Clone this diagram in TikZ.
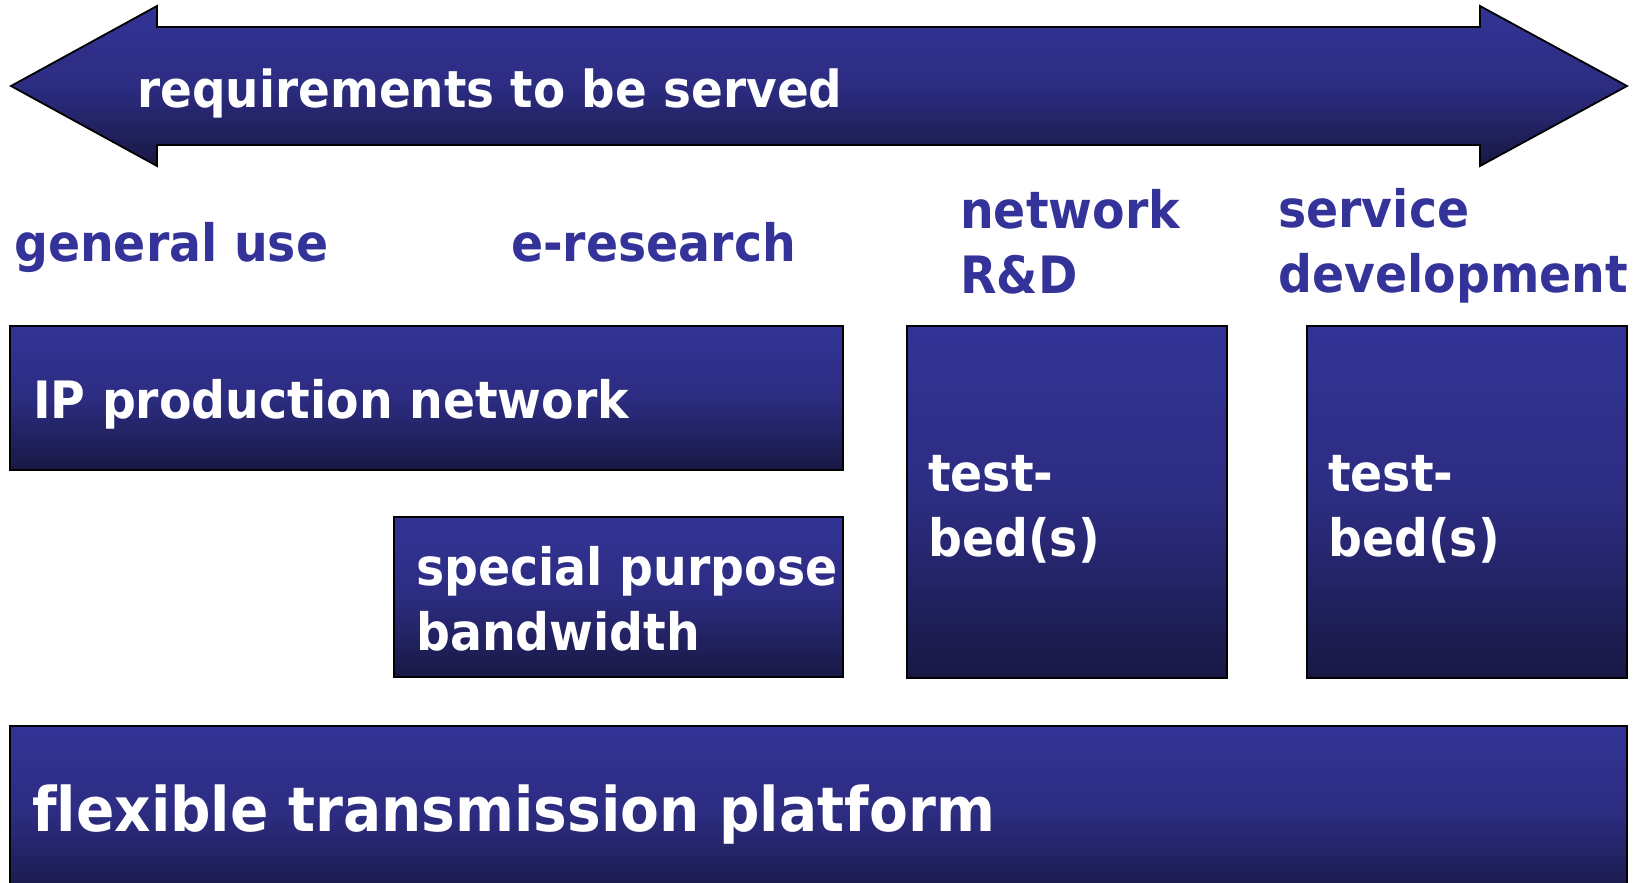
\documentclass[tikz,border=0pt]{standalone}
\usepackage{fontspec}
\setmainfont{DejaVu Sans}[FakeStretch=0.92, Ligatures=NoCommon]
\definecolor{navytop}{RGB}{51,51,150}
\definecolor{navybot}{RGB}{24,24,68}
\definecolor{labelblue}{RGB}{51,51,153}
\tikzset{
  panel/.style={draw=black, line width=2.5pt, top color=navytop, bottom color=navybot, middle color=navytop!75!navybot},
  paneltext/.style={text=white, font=\fontsize{51.5}{65}\selectfont\bfseries, inner sep=0pt, align=left},
  labeltext/.style={text=labelblue, font=\fontsize{51.5}{65}\selectfont\bfseries, inner sep=0pt, align=left},
}
\begin{document}
\begin{tikzpicture}[x=1pt,y=-1pt]
\useasboundingbox (0,0) rectangle (1635,883);
\clip (0,0) rectangle (1635,883);
% double arrow
\path[panel, line width=1.8pt, line join=miter]
  (11,86) coordinate (arrL) -- (157,6) -- (157,27) -- (1480,27) -- (1480,6)
  -- (1627,86) coordinate (arrR) -- (1480,166) -- (1480,145) -- (157,145) -- (157,166) -- cycle;
\node[paneltext, font=\fontsize{51}{65}\selectfont\bfseries, anchor=base west] (req) at (137,107) {requirements to be served};
% column labels
\node[labeltext, anchor=base west] (gen) at (14,261) {general use};
\node[labeltext, anchor=base west] (eres) at (511,261) {e-research};
\node[labeltext, anchor=base west] (netrd) at (960,293) {network\\R\&D};
\node[labeltext, anchor=base west] (servdev) at (1278,292) {service\\development};
% boxes
\draw[panel] (10,326) rectangle (843,470);
\node[paneltext, anchor=base west] (ip) at (33,418) {IP production network};
\draw[panel] (394,517) rectangle (843,677);
\node[paneltext, anchor=base west] (spb) at (416,650) {special purpose\\bandwidth};
\draw[panel] (907,326) rectangle (1227,678);
\node[paneltext, anchor=base west] (tb1) at (928,556) {test-\\bed(s)};
\draw[panel] (1307,326) rectangle (1627,678);
\node[paneltext, anchor=base west] (tb2) at (1328,556) {test-\\bed(s)};
\draw[panel] (10,726) rectangle (1627,900);
\node[paneltext, font=\fontsize{61.5}{70}\selectfont\bfseries, anchor=base west] (flex) at (32,831) {flexible transmission platform};
\end{tikzpicture}
\end{document}
